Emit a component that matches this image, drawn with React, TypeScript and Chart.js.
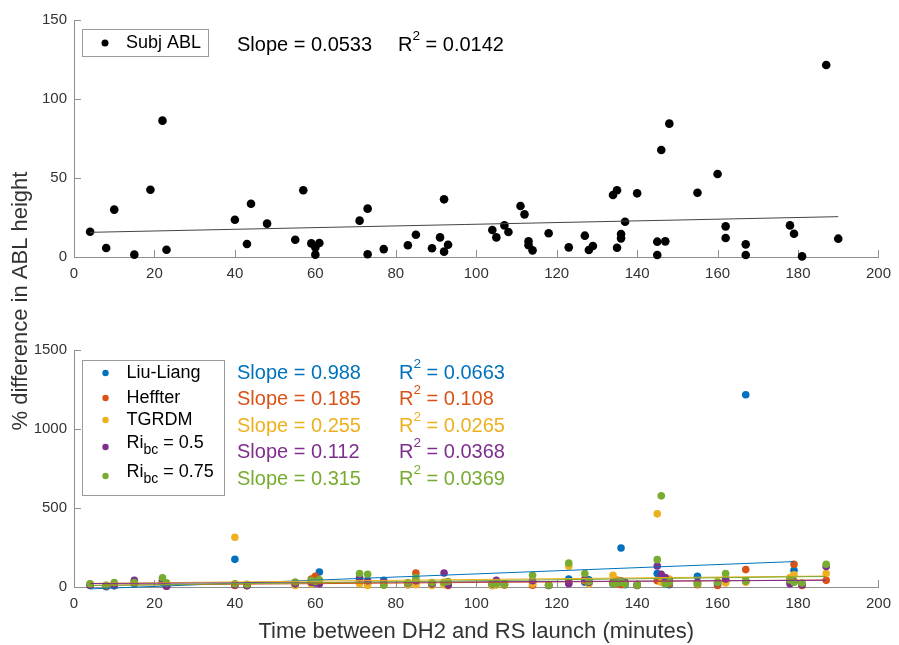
import React, { useEffect, useRef } from "react";
import { Chart, registerables } from "chart.js";

Chart.register(...registerables);

const W = 899;
const H = 645;
const FONT = '"Liberation Sans", Arial, Helvetica, sans-serif';
const AXIS_COLOR = "#8f8f8f";
const TEXT_COLOR = "#333333";

// ---- axis definitions ----
const X_MIN = 0;
const X_MAX = 200;
const X_STEP = 20;
const TOP_Y_MAX = 150;
const TOP_Y_STEP = 50;
const BOT_Y_MAX = 1500;
const BOT_Y_STEP = 500;
const X_TITLE = "Time between DH2 and RS launch (minutes)";
const Y_TITLE = "% difference in ABL height";

// ---- top panel: subjective ABL ----
const subjX = [4, 8, 10, 15, 19, 22, 23, 40, 43, 44, 48, 55, 57, 59, 60, 60, 61, 71, 73, 73, 77, 83, 85, 89, 91, 92, 92, 93, 104, 105, 107, 108, 111, 112, 113, 113, 114, 118, 123, 127, 128, 129, 134, 135, 135, 136, 136, 137, 140, 145, 145, 146, 147, 148, 155, 160, 162, 162, 167, 167, 178, 179, 181, 187, 190];
const subjY = [16, 5.7, 30, 1.5, 42.6, 86.3, 4.6, 23.6, 8.2, 33.7, 21.1, 10.9, 42.2, 8.6, 1.5, 6, 8.9, 23, 30.6, 1.7, 5, 7.4, 14.1, 5.5, 12.4, 36.5, 3.4, 7.8, 17.1, 12.4, 20, 15.8, 32.3, 27, 9.9, 7.5, 4.2, 15, 6.1, 13.5, 4.4, 7, 39.2, 42.2, 5.9, 14.5, 11.8, 22.3, 40.3, 9.7, 1.3, 67.7, 9.9, 84.4, 40.7, 52.5, 19.4, 12, 8, 1.3, 20, 14.7, 0.4, 121.5, 11.6];
const subjName = "Subj ABL";
const subjSlope = 0.0533;
const subjIntercept = 15.4;
const subjSlopeText = "0.0533";
const subjR2Text = "0.0142";

// ---- bottom panel: objective methods ----
const launchX = [4, 8, 10, 15, 22, 23, 40, 43, 55, 59, 60, 61, 71, 73, 77, 83, 85, 89, 92, 93, 104, 105, 107, 114, 118, 123, 127, 128, 134, 135, 136, 137, 140, 145, 146, 147, 148, 155, 160, 162, 167, 178, 179, 181, 187];
const liuLiang = [12, 2, 8, 20, 30, 10, 175, 10, 20, 35, 50, 95, 40, 30, 42, 15, 25, 15, 20, 12, 10, 18, 15, 30, 10, 50, 30, 45, 20, 25, 247, 15, 10, 85, 60, 20, 15, 68, 20, 40, 1217, 50, 106, null, null];
const heffter = [18, 5, 15, 25, 35, 5, 10, 8, 15, 50, 68, 40, 45, 25, 15, 20, 89, 15, 25, 10, 15, 20, 12, 11, 10, 30, 40, 25, 30, 20, 15, 25, 10, 40, 55, 40, 20, 15, 10, 35, 110, 40, 144, 10, 42];
const tgrdm = [15, 10, 12, 30, 40, 15, 315, 12, 10, 20, 30, 25, 20, 10, 20, 15, 15, 10, 15, 20, 10, 12, 15, 20, 15, 131, 45, 20, 74, 45, 30, 20, 15, 463, 30, 25, 50, 20, 35, 25, 30, 60, 78, 20, 85];
const ri050 = [10, 8, 10, 42, 45, 5, 15, 10, 20, 30, 25, 20, 58, 40, 30, 25, 40, 20, 89, 15, 20, 42, 20, 40, 12, 21, 50, 30, 25, 35, 40, 30, 15, 133, 80, 60, 40, 30, 25, 50, 40, 20, 35, 15, 130];
const ri075 = [20, 11, 28, 28, 59, 26, 21, 17, 32, 42, 35, 45, 85, 80, 11, 28, 60, 28, 30, 35, 21, 20, 18, 74, 12, 152, 85, 35, 20, 25, 30, 20, 12, 173, 577, 20, 30, 20, 28, 85, 40, 45, 30, 25, 144];

const methodNames = ["Liu-Liang", "Heffter", "TGRDM", "Ri_bc = 0.5", "Ri_bc = 0.75"];
const methodColors = ["#0072BD", "#D95319", "#EDB120", "#7E2F8E", "#77AC30"];
const methodSlopes = [0.988, 0.185, 0.255, 0.112, 0.315];
const methodIntercepts = [-16, 10, 22, 21.5, 8];
const methodSlopeText = ["0.988", "0.185", "0.255", "0.112", "0.315"];
const methodR2Text = ["0.0663", "0.108", "0.0265", "0.0368", "0.0369"];
const methodValues = [liuLiang, heffter, tgrdm, ri050, ri075];

type Run = { t: string; size: number; dy?: number };

function drawRuns(ctx: CanvasRenderingContext2D, runs: Run[], x: number, y: number, color: string) {
  ctx.save();
  ctx.fillStyle = color;
  ctx.textAlign = "left";
  ctx.textBaseline = "middle";
  let cx = x;
  for (const r of runs) {
    ctx.font = `${r.size}px ${FONT}`;
    ctx.fillText(r.t, cx, y + (r.dy || 0));
    cx += ctx.measureText(r.t).width;
  }
  ctx.restore();
}

function nameRuns(name: string, size: number): Run[] {
  if (name.startsWith("Ri_bc")) {
    return [
      { t: "Ri", size },
      { t: "bc", size: size * 0.78, dy: 7 },
      { t: name.slice(5), size },
    ];
  }
  return [{ t: name, size }];
}

function r2Runs(value: string, size: number): Run[] {
  return [
    { t: "R", size },
    { t: "2", size: size * 0.68, dy: -9 },
    { t: " = " + value, size },
  ];
}

function makePoints(xs: number[], ys: (number | null)[]) {
  const pts: { x: number; y: number }[] = [];
  xs.forEach((x, i) => {
    const y = ys[i];
    if (y !== null && y !== undefined) pts.push({ x, y });
  });
  return pts;
}

function fitLine(pts: { x: number; y: number }[], slope: number, intercept: number) {
  const xs = pts.map((p) => p.x);
  const x0 = Math.min(...xs);
  const x1 = Math.max(...xs);
  return [
    { x: x0, y: slope * x0 + intercept },
    { x: x1, y: slope * x1 + intercept },
  ];
}

const inwardTicks = {
  id: "inwardTicks",
  beforeDatasetsDraw(chart: any) {
    const { ctx, chartArea, scales } = chart;
    const xs = scales.x;
    const ys = scales.y;
    ctx.save();
    ctx.strokeStyle = AXIS_COLOR;
    ctx.lineWidth = 1;
    ctx.beginPath();
    xs.ticks.forEach((t: any) => {
      const px = Math.round(xs.getPixelForValue(t.value)) + 0.5;
      ctx.moveTo(px, chartArea.bottom);
      ctx.lineTo(px, chartArea.bottom - 7);
    });
    ys.ticks.forEach((t: any) => {
      const py = Math.round(ys.getPixelForValue(t.value)) + 0.5;
      ctx.moveTo(chartArea.left, py);
      ctx.lineTo(chartArea.left + 7, py);
    });
    ctx.stroke();
    ctx.restore();
  },
};

function legendBox(ctx: CanvasRenderingContext2D, x: number, y: number, w: number, h: number) {
  ctx.save();
  ctx.fillStyle = "#ffffff";
  ctx.fillRect(x, y, w, h);
  ctx.strokeStyle = "#9a9a9a";
  ctx.lineWidth = 1;
  ctx.strokeRect(x, y, w, h);
  ctx.restore();
}

function dot(ctx: CanvasRenderingContext2D, x: number, y: number, r: number, color: string) {
  ctx.save();
  ctx.fillStyle = color;
  ctx.beginPath();
  ctx.arc(x, y, r, 0, Math.PI * 2);
  ctx.fill();
  ctx.restore();
}

const topDeco = {
  id: "topDeco",
  afterDraw(chart: any) {
    const { ctx, chartArea } = chart;
    const L = chartArea.left;
    const T = chartArea.top;
    legendBox(ctx, Math.round(L + 8) + 0.5, Math.round(T + 9) + 0.5, 126, 27);
    dot(ctx, L + 31, T + 23, 3.5, "#000");
    drawRuns(ctx, [{ t: subjName, size: 18 }], L + 52, T + 23, "#000");
    drawRuns(ctx, [{ t: "Slope = " + subjSlopeText, size: 20 }], L + 163, T + 25, "#000");
    drawRuns(ctx, r2Runs(subjR2Text, 20), L + 324, T + 25, "#000");
  },
};

const LEG_TEXT_DY = [23, 48, 70, 93, 122];
const LEG_DOT_DY = [23, 48, 70, 97, 126];
const NOTE_DY = [23, 49, 76, 102, 129];

const bottomDeco = {
  id: "bottomDeco",
  afterDraw(chart: any) {
    const { ctx, chartArea } = chart;
    const L = chartArea.left;
    const T = chartArea.top;
    legendBox(ctx, Math.round(L + 8) + 0.5, Math.round(T + 10) + 0.5, 142, 135);
    methodNames.forEach((name, i) => {
      dot(ctx, L + 31.5, T + LEG_DOT_DY[i], 3.2, methodColors[i]);
      drawRuns(ctx, nameRuns(name, 18), L + 52.5, T + LEG_TEXT_DY[i], "#000");
      drawRuns(ctx, [{ t: "Slope = " + methodSlopeText[i], size: 20 }], L + 163, T + NOTE_DY[i], methodColors[i]);
      drawRuns(ctx, r2Runs(methodR2Text[i], 20), L + 325, T + NOTE_DY[i], methodColors[i]);
    });
    // shared y-axis title
    ctx.save();
    ctx.translate(21, 301);
    ctx.rotate(-Math.PI / 2);
    ctx.fillStyle = TEXT_COLOR;
    ctx.font = `22px ${FONT}`;
    ctx.textAlign = "center";
    ctx.textBaseline = "middle";
    ctx.fillText(Y_TITLE, 0, 0);
    ctx.restore();
  },
};

function xScale(height: number, withTitle: boolean) {
  return {
    type: "linear",
    min: X_MIN,
    max: X_MAX,
    ticks: {
      stepSize: X_STEP,
      padding: 8,
      color: TEXT_COLOR,
      font: { family: FONT, size: 15 },
      maxRotation: 0,
      autoSkip: false,
      callback: (v: any) => String(v),
    },
    grid: { display: false, drawTicks: false },
    border: { display: true, color: AXIS_COLOR, width: 1 },
    title: withTitle
      ? { display: true, text: X_TITLE, color: TEXT_COLOR, font: { family: FONT, size: 22 }, padding: 0 }
      : { display: false },
    afterFit: (s: any) => {
      s.height = height;
    },
  };
}

function yScale(max: number, step: number) {
  return {
    type: "linear",
    min: 0,
    max,
    ticks: {
      stepSize: step,
      padding: 7,
      color: TEXT_COLOR,
      font: { family: FONT, size: 15 },
      callback: (v: any) => String(v),
    },
    grid: { display: false, drawTicks: false },
    border: { display: true, color: AXIS_COLOR, width: 1 },
    afterFit: (s: any) => {
      s.width = 74;
    },
  };
}

const baseOptions = {
  responsive: false,
  animation: false,
  devicePixelRatio: 1,
  events: [],
  plugins: { legend: { display: false }, tooltip: { enabled: false }, title: { display: false } },
};

export default function App() {
  const topRef = useRef<HTMLCanvasElement>(null);
  const botRef = useRef<HTMLCanvasElement>(null);

  useEffect(() => {
    const subjPts = makePoints(subjX, subjY);
    const topChart = new Chart(topRef.current as HTMLCanvasElement, {
      type: "scatter",
      data: {
        datasets: [
          {
            data: fitLine(subjPts, subjSlope, subjIntercept),
            showLine: true,
            borderColor: "#444444",
            borderWidth: 1,
            pointRadius: 0,
            clip: false,
            order: 0,
          } as any,
          {
            data: subjPts,
            backgroundColor: "#000000",
            borderColor: "#000000",
            borderWidth: 0,
            pointRadius: 4.3,
            clip: false,
            order: 1,
          },
        ],
      },
      options: {
        ...baseOptions,
        layout: { padding: { left: 0, right: 15, top: 20, bottom: H - 257 - 30 } },
        scales: { x: xScale(30, false), y: yScale(TOP_Y_MAX, TOP_Y_STEP) },
      } as any,
      plugins: [inwardTicks, topDeco],
    });

    const datasets: any[] = [];
    methodValues.forEach((vals, i) => {
      const pts = makePoints(launchX, vals);
      datasets.push({
        data: pts,
        backgroundColor: methodColors[i],
        borderColor: methodColors[i],
        borderWidth: 0,
        pointRadius: 3.8,
        clip: false,
        order: 20 - i,
      });
      datasets.push({
        data: fitLine(pts, methodSlopes[i], methodIntercepts[i]),
        showLine: true,
        borderColor: methodColors[i],
        borderWidth: 1,
        pointRadius: 0,
        clip: false,
        order: 5 - i,
      });
    });

    const botChart = new Chart(botRef.current as HTMLCanvasElement, {
      type: "scatter",
      data: { datasets },
      options: {
        ...baseOptions,
        layout: { padding: { left: 0, right: 15, top: 350, bottom: 0 } },
        scales: { x: xScale(58, true), y: yScale(BOT_Y_MAX, BOT_Y_STEP) },
      } as any,
      plugins: [inwardTicks, bottomDeco],
    });

    return () => {
      topChart.destroy();
      botChart.destroy();
    };
  }, []);

  return (
    <div style={{ position: "fixed", left: 0, top: 0, width: W, height: H, background: "#ffffff" }}>
      <canvas ref={botRef} width={W} height={H} style={{ position: "absolute", left: 0, top: 0 }} />
      <canvas ref={topRef} width={W} height={H} style={{ position: "absolute", left: 0, top: 0 }} />
    </div>
  );
}
